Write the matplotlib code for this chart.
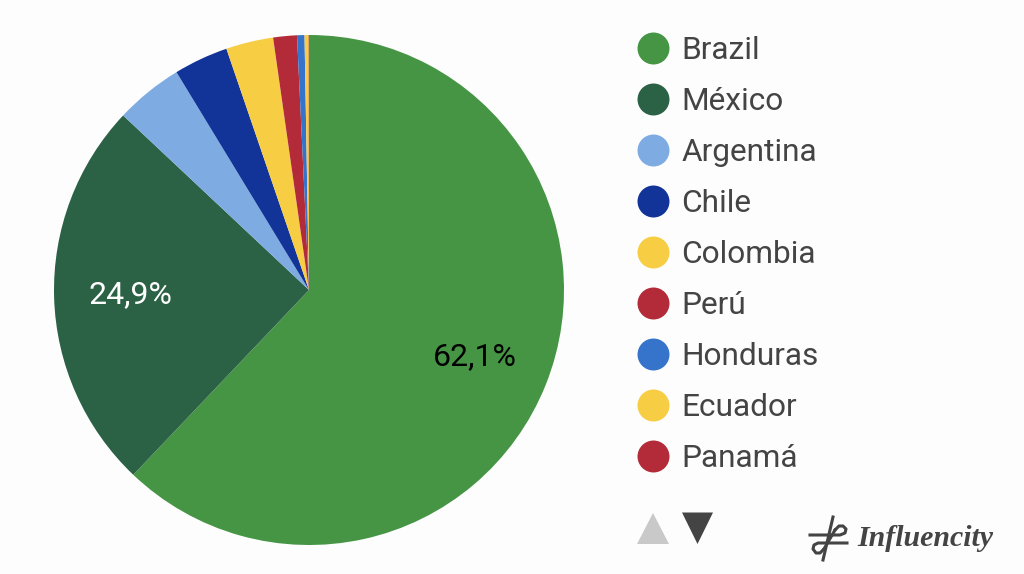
import matplotlib
matplotlib.use("Agg")
import matplotlib.pyplot as plt
from matplotlib.patches import Polygon

countries = ["Brazil", "México", "Argentina", "Chile", "Colombia", "Perú", "Honduras", "Ecuador", "Panamá"]
shares = [62.1, 24.9, 4.3, 3.45, 3.0, 1.5, 0.47, 0.26, 0.02]
colors = ["#459545", "#2b6145", "#7eace2", "#123499", "#f7cd44", "#b32a38", "#3674cc", "#f7cd44", "#b32a38"]

H = 574
BG = "#fdfdfd"
TXT = "#444444"

plt.rcParams['font.family'] = ['Roboto', 'DejaVu Sans']

fig = plt.figure(figsize=(10.24, 5.74), dpi=100, facecolor=BG)
ax = fig.add_axes([0, 0, 1, 1])


def pct(p):
    # only the two big slices get a label, with a decimal comma
    return "{:.1f}%".format(p).replace(".", ",") if p > 10 else ""


wedges, _, autotexts = ax.pie(shares, colors=colors, startangle=90, counterclock=False,
                              center=(309, H - 290), radius=255, autopct=pct, pctdistance=0.7,
                              wedgeprops={"linewidth": 0},
                              textprops={"fontsize": 23})
autotexts[0].set_color("black")
autotexts[1].set_color("white")

ax.set_xlim(0, 1024)
ax.set_ylim(0, H)
ax.set_aspect("equal")
ax.axis("off")

# legend, drawn by hand to get the spacing right
for i, (name, col) in enumerate(zip(countries, colors)):
    y = H - (47.5 + i * 51)
    ax.scatter([653], [y], s=530, color=col, linewidths=0)
    ax.text(681.5, y, name, fontsize=22.8, color=TXT, va="center_baseline", ha="left")

# pager arrows
ax.add_patch(Polygon([(637, H - 544), (669, H - 544), (653, H - 513)], color="#c9c9c9", lw=0))
ax.add_patch(Polygon([(682, H - 512.5), (713, H - 512.5), (697.5, H - 544)], color="#444444", lw=0))

# logo
ax.plot([810, 840, 845, 846, 843, 839, 835],
        [H - 535, H - 535, H - 533, H - 529, H - 526, H - 526, H - 530], color=TXT, lw=2.2)
ax.plot([847, 818, 814, 813, 816, 820, 824],
        [H - 543, H - 543, H - 545, H - 549, H - 553, H - 553, H - 549], color=TXT, lw=2.2)
ax.plot([833, 823], [H - 517, H - 560], color=TXT, lw=2.2)
ax.plot([835, 824], [H - 530, H - 549], color=TXT, lw=2.2)
ax.text(857, H - 538, "Influencity", fontsize=21.5, color=TXT, family="Liberation Serif",
        style="italic", weight="bold", va="center", ha="left")

fig.savefig("out.png", dpi=100, facecolor=BG)
